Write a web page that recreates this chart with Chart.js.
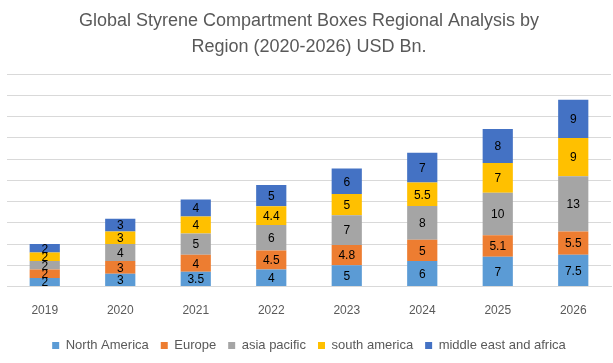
<!DOCTYPE html>
<html lang="en">
<head>
<meta charset="UTF-8">
<title>Styrene Compartment Boxes</title>
<script src="https://cdn.jsdelivr.net/npm/chart.js@4.4.1/dist/chart.umd.min.js"></script>
<style>
  body { margin: 0; background: #fff; }
</style>
</head>
<body>
<canvas id="mychart" width="613" height="363"></canvas>
<script>
// data
const years = ['2019', '2020', '2021', '2022', '2023', '2024', '2025', '2026'];
const northAmerica = [2, 3, 3.5, 4, 5, 6, 7, 7.5];
const europe = [2, 3, 4, 4.5, 4.8, 5, 5.1, 5.5];
const asiaPacific = [2, 4, 5, 6, 7, 8, 10, 13];
const southAmerica = [2, 3, 4, 4.4, 5, 5.5, 7, 9];
const middleEastAfrica = [2, 3, 4, 5, 6, 7, 8, 9];

const seriesNames = ['North America', 'Europe', 'asia pacific', 'south america', 'middle east and africa'];
const seriesData = [northAmerica, europe, asiaPacific, southAmerica, middleEastAfrica];
const seriesColors = ['#5B9BD5', '#ED7D31', '#A5A5A5', '#FFC000', '#4472C4'];

// simple inline label plugin, writes each value in the middle of its segment
const barLabels = {
    id: 'barLabels',
    afterDatasetsDraw(chart) {
        const ctx = chart.ctx;
        ctx.save();
        ctx.font = '12px "Liberation Sans", sans-serif';
        ctx.fillStyle = '#000';
        ctx.textAlign = 'center';
        ctx.textBaseline = 'middle';
        chart.data.datasets.forEach((ds, i) => {
            chart.getDatasetMeta(i).data.forEach((bar, j) => {
                const mid = (bar.y + bar.base) / 2;
                ctx.fillText(ds.data[j], bar.x, mid + 1);
            });
        });
        ctx.restore();
    }
};

const ctx = document.getElementById('mychart').getContext('2d');
const myChart = new Chart(ctx, {
    type: 'bar',
    data: {
        labels: years,
        datasets: seriesNames.map((name, i) => ({
            label: name,
            data: seriesData[i],
            backgroundColor: seriesColors[i],
            categoryPercentage: 0.8,
            barPercentage: 0.5
        }))
    },
    options: {
        responsive: false,
        animation: false,
        layout: { padding: { left: 7, right: 2, top: 4, bottom: 1 } },
        plugins: {
            title: {
                display: true,
                text: ['Global Styrene Compartment Boxes Regional Analysis by', 'Region (2020-2026) USD Bn.'],
                color: '#595959',
                font: { family: '"Liberation Sans", sans-serif', size: 18, weight: 'normal', lineHeight: 1.45 },
                padding: { top: 4, bottom: 14 }
            },
            legend: {
                position: 'bottom',
                labels: {
                    color: '#595959',
                    boxWidth: 7,
                    boxHeight: 7,
                    padding: 12,
                    font: { family: '"Liberation Sans", sans-serif', size: 13 }
                }
            },
            tooltip: { enabled: false }
        },
        scales: {
            x: {
                stacked: true,
                grid: { display: false },
                border: { color: '#d9d9d9' },
                ticks: { color: '#595959', font: { family: '"Liberation Sans", sans-serif', size: 12 }, padding: 9 }
            },
            y: {
                stacked: true,
                min: 0,
                max: 50,
                ticks: { display: false, stepSize: 5 },
                border: { display: false },
                grid: { color: '#d9d9d9', drawTicks: false }
            }
        }
    },
    plugins: [barLabels]
});
</script>
</body>
</html>
